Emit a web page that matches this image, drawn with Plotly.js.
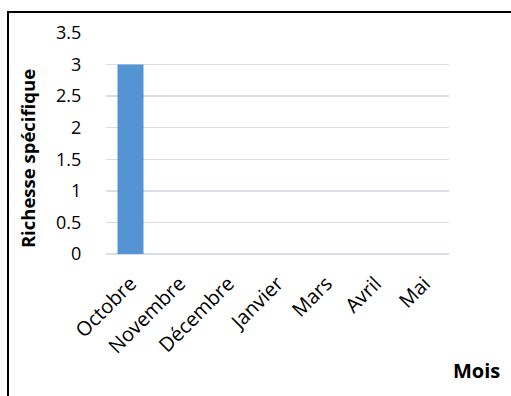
<!DOCTYPE html>
<html>
<head>
<meta charset="utf-8">
<script src="https://cdn.plot.ly/plotly-3.0.1.min.js"></script>
<style>
  html, body { margin: 0; padding: 0; background: #fff; overflow: hidden; }
  #wrap { position: relative; width: 511px; height: 396px; }
  #chart { position: absolute; left: 0; top: 0; width: 511px; height: 396px; }
  #frame { position: absolute; left: 7px; top: 11px; width: 600px; height: 500px;
           border: 2px solid #000; pointer-events: none; box-sizing: border-box; }
</style>
</head>
<body>
<div id="wrap">
  <div id="chart"></div>
  <div id="frame"></div>
</div>
<script>
const months = ["Octobre", "Novembre", "Décembre", "Janvier", "Mars", "Avril", "Mai"];
const richness = [3, 0, 0, 0, 0, 0, 0];
const yTicks = [0, 0.5, 1, 1.5, 2, 2.5, 3, 3.5];
const yTickText = ["0", "0.5", "1", "1.5", "2", "2.5", "3", "3.5"];
const yTitle = "Richesse spécifique";
const xTitle = "Mois";

const trace = {
  type: "bar",
  x: months,
  y: richness,
  marker: { color: "#5494d2", line: { width: 0 } },
  hoverinfo: "x+y"
};

const FONT = "Open Sans, sans-serif";

const layout = {
  width: 511,
  height: 396,
  margin: { l: 106, r: 62, t: 33, b: 142 },
  paper_bgcolor: "rgba(0,0,0,0)",
  plot_bgcolor: "#fff",
  showlegend: false,
  bargap: 0.47,
  font: { family: FONT, size: 18, color: "#000" },
  xaxis: {
    type: "category",
    tickangle: -45,
    showgrid: false,
    showline: false,
    zeroline: false,
    ticks: "outside",
    ticklen: 9,
    tickcolor: "rgba(0,0,0,0)",
    tickfont: { family: FONT, size: 20, color: "#000" },
    automargin: false
  },
  yaxis: {
    range: [0, 3.5],
    tickvals: yTicks,
    ticktext: yTickText,
    showgrid: true,
    gridcolor: "#d9dde4",
    gridwidth: 1.5,
    zeroline: true,
    zerolinecolor: "#d9dde4",
    zerolinewidth: 1.5,
    showline: false,
    ticks: "outside",
    ticklen: 20,
    tickcolor: "rgba(0,0,0,0)",
    tickfont: { family: FONT, size: 18, color: "#000" },
    automargin: false
  },
  annotations: [
    {
      text: "<b>" + yTitle + "</b>",
      xref: "paper", yref: "paper",
      x: -0.227, y: 0.43,
      xanchor: "center", yanchor: "middle",
      textangle: -90, showarrow: false,
      font: { family: FONT, size: 18.5, color: "#000" }
    },
    {
      text: "<b>" + xTitle + "</b>",
      xref: "paper", yref: "paper",
      x: 1.079, y: -0.525,
      xanchor: "center", yanchor: "middle",
      showarrow: false,
      font: { family: FONT, size: 20, color: "#000" }
    }
  ]
};

Plotly.newPlot("chart", [trace], layout, { displayModeBar: false, staticPlot: true });
</script>
</body>
</html>
